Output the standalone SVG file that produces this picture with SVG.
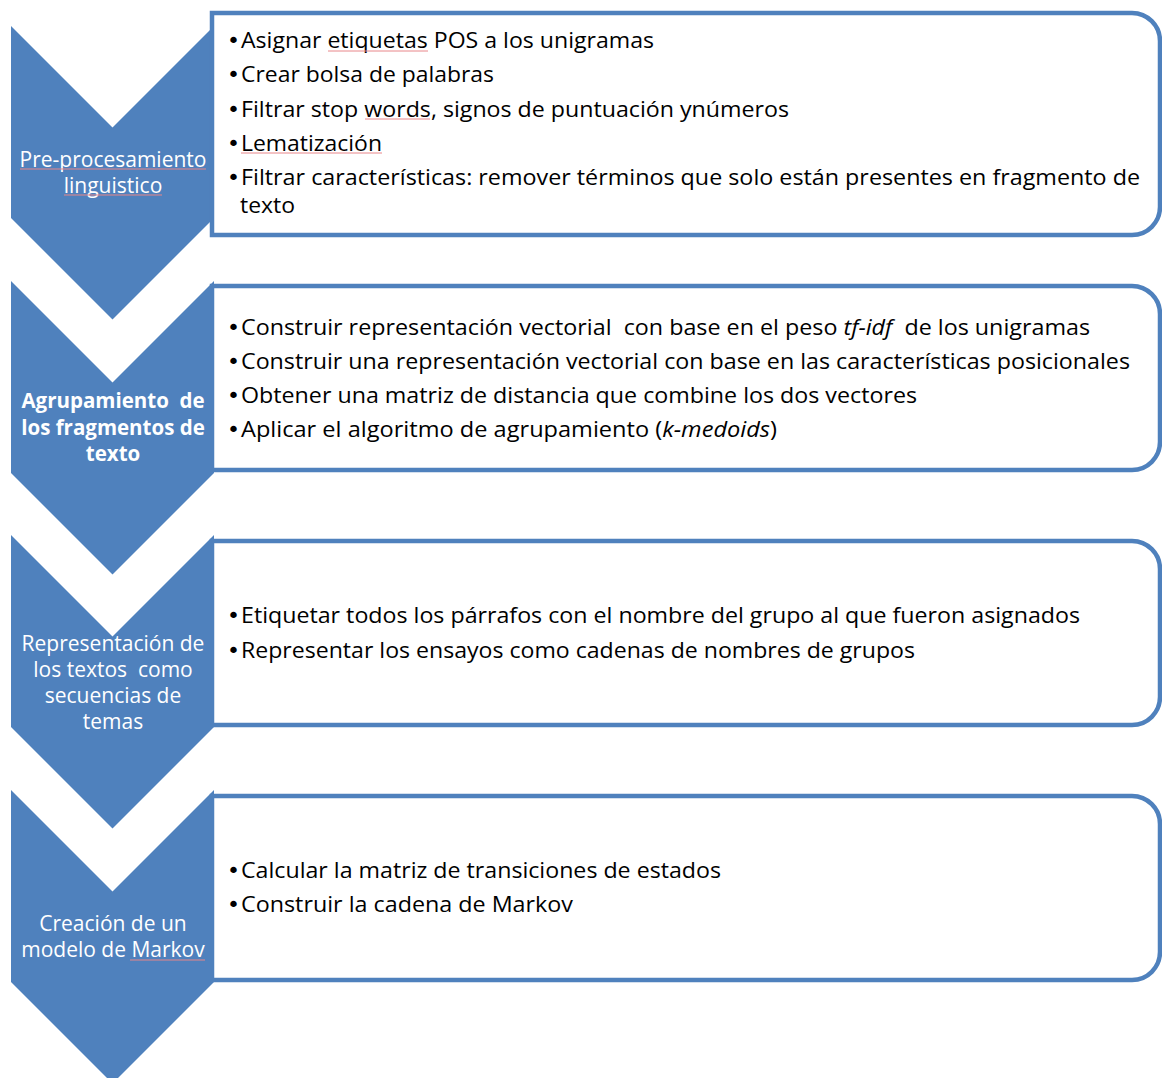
<svg xmlns="http://www.w3.org/2000/svg" width="1162" height="1078" viewBox="0 0 1162 1078" xml:space="preserve">
<style>
.chev{fill:#4F81BD;}
.box{fill:#FFFFFF;stroke:#4F81BD;stroke-width:4.5;}
.lab{font-family:"Open Sans","Liberation Sans",sans-serif;font-size:21px;fill:#FFFFFF;text-anchor:middle;white-space:pre;}
.labb{font-family:"Open Sans","Liberation Sans",sans-serif;font-size:20.5px;font-weight:bold;fill:#FFFFFF;text-anchor:middle;white-space:pre;}
.item{font-family:"Open Sans","Liberation Sans",sans-serif;font-size:21px;fill:#000000;white-space:pre;}
.bul{font-family:"DejaVu Sans",sans-serif;font-size:22px;}
.it{font-style:italic;}
.sp{fill:none;stroke:#E8868A;stroke-width:1;}
</style>
<rect width="1162" height="1078" fill="#FFFFFF"/>

<g id="step1">
  <path class="chev" d="M11,26 L112.5,127.5 L214,26 L214,218 L112.5,319.5 L11,218 Z"/>
  <path class="box" d="M212,13 H1132 A28,28 0 0 1 1160,41 V207 A28,28 0 0 1 1132,235 H212 Z"/>
  <text class="lab" x="113" y="167">Pre-procesamiento</text>
  <text class="lab" x="113" y="193">linguistico</text>
  <text class="item" y="48"><tspan class="bul" x="227">•</tspan><tspan x="241" textLength="413" lengthAdjust="spacingAndGlyphs">Asignar etiquetas POS a los unigramas</tspan></text>
  <text class="item" y="82"><tspan class="bul" x="227">•</tspan><tspan x="241" textLength="253" lengthAdjust="spacingAndGlyphs">Crear bolsa de palabras</tspan></text>
  <text class="item" y="117"><tspan class="bul" x="227">•</tspan><tspan x="241" textLength="548" lengthAdjust="spacingAndGlyphs">Filtrar stop words, signos de puntuación ynúmeros</tspan></text>
  <text class="item" y="151"><tspan class="bul" x="227">•</tspan><tspan x="241" textLength="141" lengthAdjust="spacingAndGlyphs">Lematización</tspan></text>
  <text class="item" y="185"><tspan class="bul" x="227">•</tspan><tspan x="241" textLength="899" lengthAdjust="spacingAndGlyphs">Filtrar características: remover términos que solo están presentes en fragmento de</tspan></text>
  <text class="item" x="240" y="213" textLength="55" lengthAdjust="spacingAndGlyphs">texto</text>
  <path class="sp" d="M328,51 H428 M365,119 H430 M241,153 H382 M20,169 H206 M64,195 H162"/>
</g>

<g id="step2">
  <path class="box" d="M212,286 H1132 A28,28 0 0 1 1160,314 V442 A28,28 0 0 1 1132,470 H212 Z"/>
  <path class="chev" d="M11,281 L112.5,382.5 L214,281 L214,473 L112.5,574.5 L11,473 Z"/>
  <text class="labb" x="113" y="408">Agrupamiento  de</text>
  <text class="labb" x="113" y="435">los fragmentos de</text>
  <text class="labb" x="113" y="461">texto</text>
  <text class="item" y="335"><tspan class="bul" x="227">•</tspan><tspan x="241" textLength="849" lengthAdjust="spacingAndGlyphs">Construir representación vectorial  con base en el peso <tspan class="it">tf-idf</tspan>  de los unigramas</tspan></text>
  <text class="item" y="369"><tspan class="bul" x="227">•</tspan><tspan x="241" textLength="889" lengthAdjust="spacingAndGlyphs">Construir una representación vectorial con base en las características posicionales</tspan></text>
  <text class="item" y="403"><tspan class="bul" x="227">•</tspan><tspan x="241" textLength="676" lengthAdjust="spacingAndGlyphs">Obtener una matriz de distancia que combine los dos vectores</tspan></text>
  <text class="item" y="437"><tspan class="bul" x="227">•</tspan><tspan x="241" textLength="536" lengthAdjust="spacingAndGlyphs">Aplicar el algoritmo de agrupamiento (<tspan class="it">k-medoids</tspan>)</tspan></text>
</g>

<g id="step3">
  <path class="box" d="M212,541 H1132 A28,28 0 0 1 1160,569 V697 A28,28 0 0 1 1132,725 H212 Z"/>
  <path class="chev" d="M11,535 L112.5,636.5 L214,535 L214,727 L112.5,828.5 L11,727 Z"/>
  <text class="lab" x="113" y="651">Representación de</text>
  <text class="lab" x="113" y="677">los textos  como</text>
  <text class="lab" x="113" y="703">secuencias de</text>
  <text class="lab" x="113" y="729">temas</text>
  <text class="item" y="623"><tspan class="bul" x="227">•</tspan><tspan x="241" textLength="839" lengthAdjust="spacingAndGlyphs">Etiquetar todos los párrafos con el nombre del grupo al que fueron asignados</tspan></text>
  <text class="item" y="658"><tspan class="bul" x="227">•</tspan><tspan x="241" textLength="674" lengthAdjust="spacingAndGlyphs">Representar los ensayos como cadenas de nombres de grupos</tspan></text>
</g>

<g id="step4">
  <path class="box" d="M212,796 H1132 A28,28 0 0 1 1160,824 V952 A28,28 0 0 1 1132,980 H212 Z"/>
  <path class="chev" d="M11,790 L112.5,891.5 L214,790 L214,982 L112.5,1083.5 L11,982 Z"/>
  <text class="lab" x="113" y="931">Creación de un</text>
  <text class="lab" x="113" y="957">modelo de Markov</text>
  <text class="item" y="878"><tspan class="bul" x="227">•</tspan><tspan x="241" textLength="480" lengthAdjust="spacingAndGlyphs">Calcular la matriz de transiciones de estados</tspan></text>
  <text class="item" y="912"><tspan class="bul" x="227">•</tspan><tspan x="241" textLength="332" lengthAdjust="spacingAndGlyphs">Construir la cadena de Markov</tspan></text>
  <path class="sp" d="M130,960 H205"/>
</g>

<g id="connectors"></g>
</svg>
